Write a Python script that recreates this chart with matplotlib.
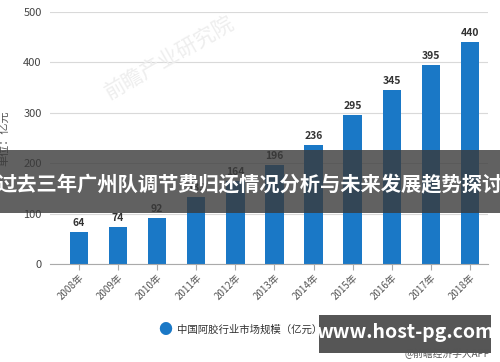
import matplotlib.pyplot as plt
from matplotlib.patches import Rectangle

plt.rcParams['font.family'] = ['Noto Sans CJK SC', 'DejaVu Sans']

# 数据
years = ['2008年', '2009年', '2010年', '2011年', '2012年', '2013年',
         '2014年', '2015年', '2016年', '2017年', '2018年']
values = [64, 74, 92, 133, 164, 196, 236, 295, 345, 395, 440]
yticks = [0, 100, 200, 300, 400, 500]

fig = plt.figure(figsize=(5, 3.62), dpi=100)
ax = fig.add_axes([0.1, 0.271, 0.876, 0.696])

x = range(len(years))
ax.bar(x, values, width=0.47, color='#1a78c6', zorder=2)
for i, v in zip(x, values):
    ax.text(i, v + 8, str(v), ha='center', va='bottom', fontsize=7.5,
            fontweight='bold', color='#333333')

ax.set_xlim(-0.74, 10.46)
ax.set_ylim(0, 500)
ax.set_yticks(yticks)
ax.set_yticklabels([str(t) for t in yticks], fontsize=8, color='#444444')
ax.set_xticks(list(x))
ax.set_xticklabels(years, rotation=45, ha='right', rotation_mode='anchor',
                   fontsize=7, color='#555555')
ax.tick_params(axis='y', length=0, pad=6)
ax.tick_params(axis='x', length=4, color='#aaaaaa', pad=2)
ax.grid(axis='y', color='#d9d9d9', linewidth=0.8, zorder=0)
for s in ['top', 'right', 'left']:
    ax.spines[s].set_visible(False)
ax.spines['bottom'].set_color('#aaaaaa')
ax.set_ylabel('单位：亿元', fontsize=8, color='#555555', labelpad=10)

# 水印
fig.text(0.34, 0.84, '前瞻产业研究院', fontsize=15, color='#eeeeee',
         rotation=30, ha='center', va='center', zorder=0)

# 图例
fig.text(0.33, 0.088, '●', fontsize=10, color='#1a78c6', ha='center', va='center')
fig.text(0.355, 0.088, '中国阿胶行业市场规模（亿元）', fontsize=7.5,
         color='#333333', ha='left', va='center')

# 横幅
fig.patches.append(Rectangle((0, 1 - 213 / 362), 1, 63 / 362, transform=fig.transFigure,
                             facecolor='#3a3a3a', alpha=0.8, zorder=5))
fig.text(0.5, 1 - 185 / 362, '过去三年广州队调节费归还情况分析与未来发展趋势探讨',
         fontsize=14.6, fontweight='bold', color='white', ha='center', va='center',
         zorder=6)

# 右下角
fig.patches.append(Rectangle((319 / 500, 1 - 353 / 362), 172 / 500, 38 / 362,
                             transform=fig.transFigure, facecolor='#444444',
                             alpha=0.9, zorder=5))
fig.text(405 / 500, 1 - 333 / 362, 'www.host-pg.com', fontsize=14, fontweight='bold',
         color='white', ha='center', va='center', zorder=6)
fig.text(490 / 500, 1 - 354 / 362, '@前瞻经济学人APP', fontsize=7, color='#555555',
         ha='right', va='center', zorder=6)

fig.savefig('out.png', dpi=100)
